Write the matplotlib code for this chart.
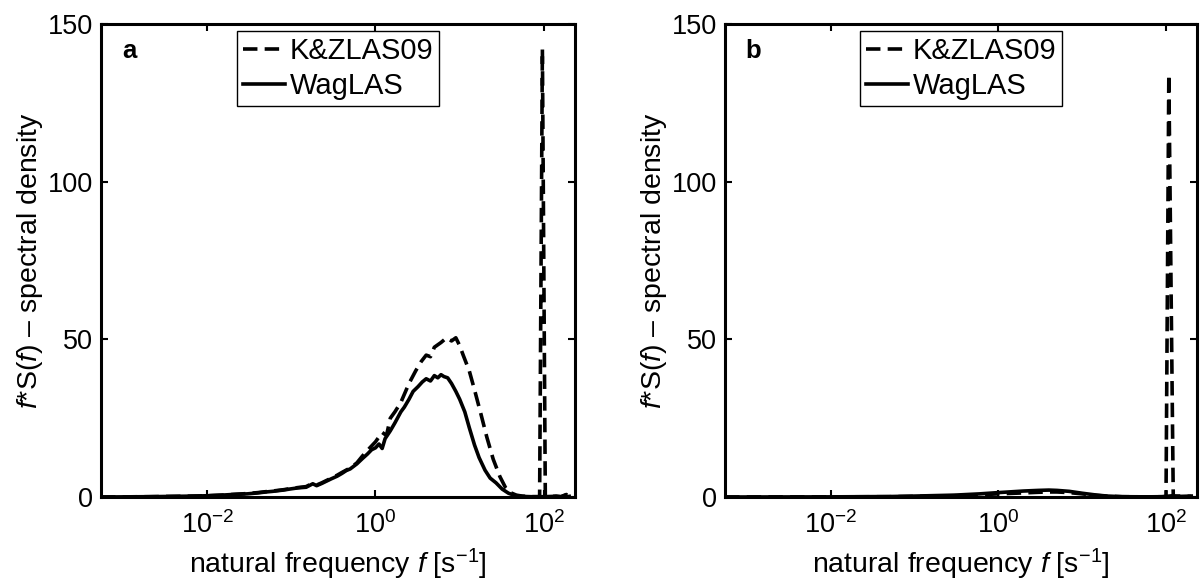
import matplotlib
matplotlib.use("Agg")
import matplotlib.pyplot as plt

plt.rcParams['font.family'] = ['Liberation Sans', 'DejaVu Sans']
plt.rcParams['mathtext.fontset'] = 'custom'
plt.rcParams['mathtext.rm'] = 'Liberation Sans'
plt.rcParams['mathtext.it'] = 'Liberation Sans:italic'

# --- datos ---
# panel a, WagLAS (linea continua)
f_wag_a = [0.00055, 0.001, 0.002, 0.004, 0.007, 0.01, 0.015, 0.02, 0.03, 0.04,
           0.05, 0.06, 0.08, 0.1, 0.12, 0.15, 0.18, 0.2, 0.23, 0.26,
           0.3, 0.35, 0.4, 0.45, 0.5, 0.6, 0.7, 0.8, 0.9, 1.0,
           1.1, 1.2, 1.3, 1.5, 1.7, 2.0, 2.2, 2.5, 2.8, 3.2,
           3.6, 4.0, 4.5, 5.0, 5.5, 6.0, 6.5, 7.2, 8.0, 9.0,
           10, 11.5, 13, 15, 17, 20, 23, 27, 32, 38,
           45, 55, 70, 100, 130, 160, 180, 190, 200]
s_wag_a = [0.0, 0.05, 0.1, 0.2, 0.3, 0.4, 0.6, 0.8, 1.0, 1.3,
           1.6, 1.8, 2.2, 2.6, 2.9, 3.1, 4.2, 3.6, 4.3, 5.0,
           5.8, 6.6, 7.5, 8.4, 8.9, 10.5, 12.2, 13.6, 15.0, 15.6,
           16.8, 15.4, 18.5, 21.0, 23.5, 27.0, 28.5, 31.0, 33.5, 35.0,
           36.5, 37.5, 36.8, 38.5, 37.8, 38.8, 38.2, 37.8, 36.0, 33.5,
           31.0, 27.0, 22.0, 16.5, 12.5, 8.5, 6.0, 4.5, 2.5, 1.2,
           0.5, 0.2, 0.1, 0.1, 0.2, 0.1, 0.6, 0.1, 0.2]

# panel a, K&ZLAS09 (linea discontinua)
f_kz_a = [0.00055, 0.001, 0.002, 0.004, 0.007, 0.01, 0.015, 0.02, 0.03, 0.04,
          0.05, 0.06, 0.08, 0.1, 0.12, 0.15, 0.18, 0.2, 0.23, 0.26,
          0.3, 0.35, 0.4, 0.5, 0.6, 0.7, 0.85, 1.0, 1.2, 1.35,
          1.5, 1.7, 2.0, 2.5, 3.0, 3.5, 4.0, 4.5, 5.0, 6.0,
          7.0, 8.0, 9.0, 10, 11, 13, 15, 18, 21, 25,
          30, 35, 40, 47, 55, 70, 85, 89, 96, 104,
          120, 140, 160, 185, 200]
s_kz_a = [0.0, 0.05, 0.1, 0.2, 0.3, 0.4, 0.6, 0.8, 1.1, 1.4,
          1.7, 1.9, 2.3, 2.7, 3.0, 3.3, 4.4, 3.8, 4.5, 5.2,
          6.0, 6.9, 7.8, 9.2, 10.8, 13.0, 15.5, 17.5, 20.5, 19.5,
          25.0, 27.0, 30.0, 36.0, 40.0, 43.0, 45.0, 44.5, 47.5, 49.0,
          50.5, 49.5, 50.5, 48.0, 45.0, 40.0, 34.0, 26.0, 19.0, 12.0,
          6.5, 3.0, 1.4, 0.6, 0.3, 0.1, 0.1, 0.1, 142.0, 0.1,
          0.1, 0.3, 0.1, 0.8, 0.1]

# panel b, WagLAS
f_wag_b = [0.00055, 0.01, 0.05, 0.1, 0.3, 0.6, 1.0, 2.0, 3.0, 4.0,
           5.0, 7.0, 10, 15, 20, 30, 60, 90, 120, 150, 200]
s_wag_b = [0.0, 0.05, 0.15, 0.3, 0.6, 1.0, 1.4, 1.9, 2.1, 2.2,
           2.1, 1.8, 1.2, 0.6, 0.3, 0.1, 0.05, 0.1, 0.4, 0.2, 0.3]

# panel b, K&ZLAS09
f_kz_b = [0.00055, 0.01, 0.05, 0.1, 0.3, 0.6, 1.0, 2.0, 3.0, 4.0,
          5.0, 7.0, 10, 15, 20, 30, 60, 100, 108, 122, 150, 200]
s_kz_b = [0.0, 0.05, 0.1, 0.2, 0.4, 0.7, 1.0, 1.3, 1.5, 1.6,
          1.6, 1.4, 1.0, 0.5, 0.25, 0.1, 0.05, 0.1, 134.0, 0.1, 0.3, 0.2]

paneles = [
    ('a', f_kz_a, s_kz_a, f_wag_a, s_wag_a),
    ('b', f_kz_b, s_kz_b, f_wag_b, s_wag_b),
]

fig = plt.figure(figsize=(12.01, 5.85), dpi=100)
posiciones = [[0.0841, 0.1504, 0.3947, 0.8085],
              [0.6037, 0.1504, 0.3930, 0.8085]]

for pos, (letra, fk, sk, fw, sw) in zip(posiciones, paneles):
    ax = fig.add_axes(pos)
    ax.plot(fk, sk, color='k', lw=2.6, ls=(0, (4, 2)), label='K&ZLAS09')
    ax.plot(fw, sw, color='k', lw=2.6, label='WagLAS')
    ax.set_xscale('log')
    ax.set_xlim(10 ** -3.26, 10 ** 2.37)
    ax.set_ylim(0, 150)
    ax.set_xticks([1e-2, 1e0, 1e2])
    ax.xaxis.set_minor_locator(matplotlib.ticker.NullLocator())
    ax.set_yticks([0, 50, 100, 150])
    ax.tick_params(direction='in', top=True, right=True, length=5, width=1.5,
                   labelsize=19.5)
    ax.tick_params(axis='x', pad=10)
    ax.tick_params(axis='y', pad=6)
    for sp in ax.spines.values():
        sp.set_linewidth(2.2)
    ax.set_xlabel('natural frequency $f$ [s$^{-1}$]', fontsize=20.5, labelpad=6)
    ax.set_ylabel('$f$*S($f$) – spectral density', fontsize=20.5, labelpad=2)
    ax.text(0.044, 0.928, letra, transform=ax.transAxes, fontsize=18.5,
            fontweight='bold', va='baseline')
    leg = ax.legend(loc='upper center', fontsize=21, handlelength=1.45,
                    handletextpad=0.15, labelspacing=0.25, borderpad=0.2,
                    borderaxespad=0.25, fancybox=False, framealpha=1)
    leg.get_frame().set_edgecolor('k')
    leg.get_frame().set_linewidth(1.0)

fig.savefig('out.png', dpi=100)
